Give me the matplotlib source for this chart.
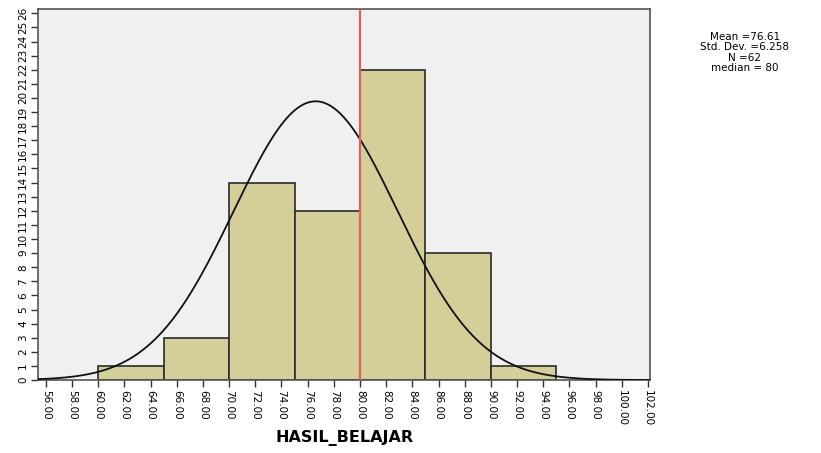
import numpy as np
import matplotlib.pyplot as plt

bin_edges = [60, 65, 70, 75, 80, 85, 90, 95]
counts = [1, 3, 14, 12, 22, 9, 1]
mean = 76.61
std = 6.258
n = 62
median = 80
x_ticks = [56, 58, 60, 62, 64, 66, 68, 70, 72, 74, 76, 78, 80, 82, 84, 86, 88, 90, 92, 94, 96, 98, 100, 102]
y_ticks = list(range(0, 27))

fig = plt.figure(figsize=(8.21, 4.53), dpi=100)
ax = fig.add_axes([0.0463, 0.161, 0.7454, 0.819])
ax.set_facecolor('#f0f0f0')

widths = np.diff(bin_edges)
ax.bar(bin_edges[:-1], counts, width=widths, align='edge', color='#d4cf98',
       edgecolor='#2b2b2b', linewidth=1.2, zorder=2)

# normal curve scaled to counts
xs = np.linspace(54, 104, 400)
ys = n * 5 / (std * np.sqrt(2 * np.pi)) * np.exp(-0.5 * ((xs - mean) / std) ** 2)
ax.plot(xs, ys, color='#111111', linewidth=1.3, zorder=3)

ax.axvline(median, color='#e06060', linewidth=1.6, zorder=4)

ax.set_xlim(55.4, 102.15)
ax.set_ylim(0, 26.3)
ax.set_xticks(x_ticks)
ax.set_xticklabels(['%.2f' % v for v in x_ticks], rotation=-90, fontsize=7.5)
ax.set_yticks(y_ticks)
ax.set_yticklabels([str(v) for v in y_ticks], rotation=90, fontsize=7.5, va='center')
ax.tick_params(axis='both', length=5, width=1, color='#333333', pad=2)
for s in ax.spines.values():
    s.set_color('#555555')
    s.set_linewidth(1.2)

fig.text(0.42, 0.033, 'HASIL_BELAJAR', fontsize=11.5, fontweight='bold',
         ha='center', va='center')

fig.text(0.907, 0.93, 'Mean =76.61\nStd. Dev. =6.258\nN =62\nmedian = 80',
         ha='center', va='top', fontsize=7.5, linespacing=1.05)

fig.savefig('out.png', dpi=100)
